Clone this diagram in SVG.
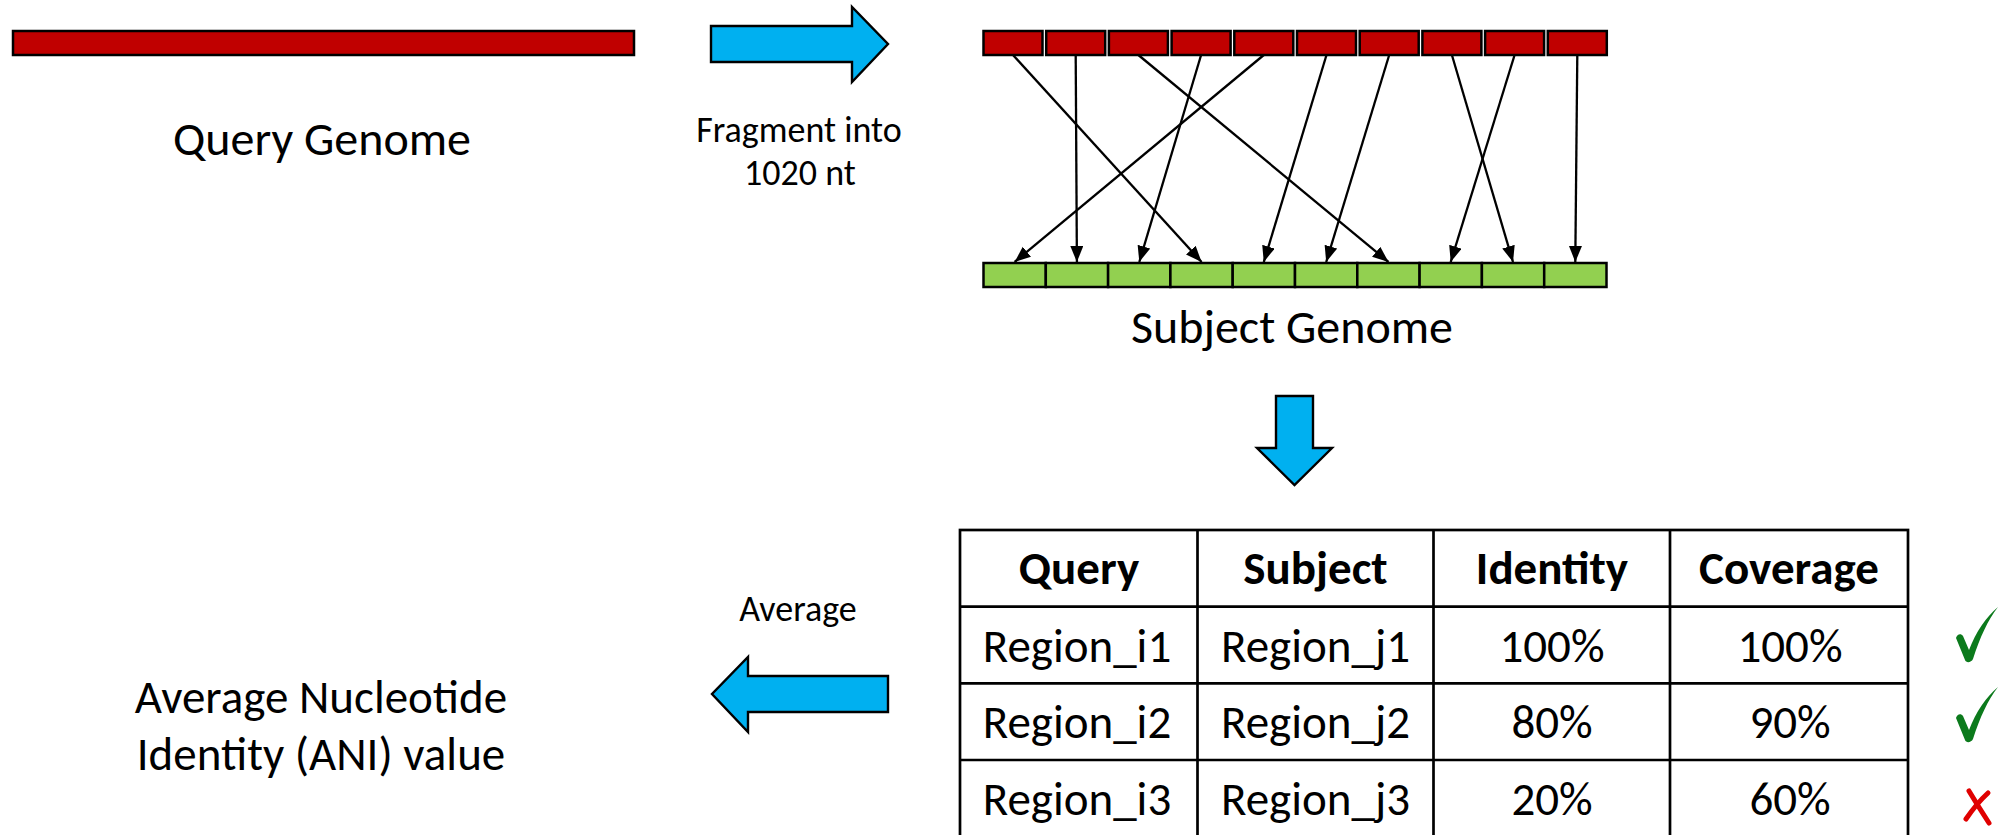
<svg xmlns="http://www.w3.org/2000/svg" width="2016" height="835" viewBox="0 0 2016 835">
  <style>
    .txt { font-family: Carlito, Lato, "Open Sans", sans-serif; fill: #000; text-anchor: middle; }
    .big { font-size: 48px; }
    .res { font-size: 47px; }
    .mid { font-size: 36px; }
    .hdr { font-size: 47px; font-weight: bold; }
    .cell { font-size: 47px; }
    .red { fill: #C00000; stroke: #000; stroke-width: 2.5; }
    .green { fill: #92D050; stroke: #000; stroke-width: 2.5; }
    .blue { fill: #00B0F0; stroke: #000; stroke-width: 2.4; stroke-linejoin: miter; }
    .link { stroke: #000; stroke-width: 2.3; fill: none; marker-end: url(#tri); }
    .grid { stroke: #000; stroke-width: 2.7; fill: none; }
    .ok { fill: #0C7A1C; }
    .no { stroke: #E00000; stroke-width: 5; fill: none; stroke-linecap: round; }
  </style>
  <defs>
    <marker id="tri" markerUnits="userSpaceOnUse" markerWidth="17" markerHeight="14" refX="16" refY="6.5" orient="auto">
      <path d="M0,0 L16,6.5 L0,13 Z" fill="#000"/>
    </marker>
    <path id="tick" d="M-13,-23 C-12,-27 -8,-28 -6,-25 L0,-11 C7,-29 17,-44 29,-54 C19,-41 11,-24 4,-2 C2,2 -3,2 -4,-1 Z"/>
  </defs>

  <rect width="2016" height="835" fill="#fff"/>

  <!-- query genome -->
  <g id="query-genome">
    <rect class="red" x="13" y="31" width="621" height="24"/>
    <text class="txt big" x="322" y="155">Query Genome</text>
  </g>

  <!-- fragmentation step -->
  <g id="fragment-arrow">
    <polygon class="blue" points="711,26 852,26 852,7 888,44 852,82 852,62 711,62"/>
    <text class="txt mid" x="799" y="142">Fragment into</text>
    <text class="txt mid" x="800" y="185">1020 nt</text>
  </g>

  <!-- query fragments -->
  <g id="fragments">
    <rect class="red" x="983.5" y="31" width="59" height="24"/>
    <rect class="red" x="1046.2" y="31" width="59" height="24"/>
    <rect class="red" x="1108.9" y="31" width="59" height="24"/>
    <rect class="red" x="1171.6" y="31" width="59" height="24"/>
    <rect class="red" x="1234.3" y="31" width="59" height="24"/>
    <rect class="red" x="1297" y="31" width="59" height="24"/>
    <rect class="red" x="1359.7" y="31" width="59" height="24"/>
    <rect class="red" x="1422.4" y="31" width="59" height="24"/>
    <rect class="red" x="1485.1" y="31" width="59" height="24"/>
    <rect class="red" x="1547.8" y="31" width="59" height="24"/>
  </g>

  <!-- subject genome -->
  <g id="subject-genome">
    <rect class="green" x="983.5" y="263" width="62.3" height="24"/>
    <rect class="green" x="1045.8" y="263" width="62.3" height="24"/>
    <rect class="green" x="1108.1" y="263" width="62.3" height="24"/>
    <rect class="green" x="1170.4" y="263" width="62.3" height="24"/>
    <rect class="green" x="1232.7" y="263" width="62.3" height="24"/>
    <rect class="green" x="1295" y="263" width="62.3" height="24"/>
    <rect class="green" x="1357.3" y="263" width="62.3" height="24"/>
    <rect class="green" x="1419.6" y="263" width="62.3" height="24"/>
    <rect class="green" x="1481.9" y="263" width="62.3" height="24"/>
    <rect class="green" x="1544.2" y="263" width="62.3" height="24"/>
    <text class="txt big" x="1292" y="343">Subject Genome</text>
  </g>

  <!-- fragment-to-subject hits -->
  <g id="connectors">
    <line class="link" x1="1013" y1="55" x2="1201.6" y2="262"/>
    <line class="link" x1="1075.7" y1="55" x2="1076.9" y2="262"/>
    <line class="link" x1="1138.4" y1="55" x2="1388.5" y2="262"/>
    <line class="link" x1="1201.1" y1="55" x2="1139.3" y2="262"/>
    <line class="link" x1="1263.8" y1="55" x2="1014.6" y2="262"/>
    <line class="link" x1="1326.5" y1="55" x2="1263.8" y2="262"/>
    <line class="link" x1="1389.2" y1="55" x2="1326.2" y2="262"/>
    <line class="link" x1="1451.9" y1="55" x2="1513" y2="262"/>
    <line class="link" x1="1514.6" y1="55" x2="1450.7" y2="262"/>
    <line class="link" x1="1577.3" y1="55" x2="1575.3" y2="262"/>
  </g>

  <!-- step down to the hit table -->
  <g id="table-arrow">
    <polygon class="blue" points="1276,396 1313,396 1313,448 1332,448 1294.5,485 1257,448 1276,448"/>
  </g>

  <!-- hit table -->
  <g id="hit-table">
    <rect class="grid" x="960" y="530" width="948" height="310"/>
    <line class="grid" x1="960" y1="606.7" x2="1908" y2="606.7"/>
    <line class="grid" x1="960" y1="683.3" x2="1908" y2="683.3"/>
    <line class="grid" x1="960" y1="760" x2="1908" y2="760"/>
    <line class="grid" x1="1197.5" y1="530" x2="1197.5" y2="840"/>
    <line class="grid" x1="1433.5" y1="530" x2="1433.5" y2="840"/>
    <line class="grid" x1="1670" y1="530" x2="1670" y2="840"/>

    <text class="txt hdr" x="1079" y="584">Query</text>
    <text class="txt hdr" x="1315.5" y="584">Subject</text>
    <text class="txt hdr" x="1552" y="584">Identity</text>
    <text class="txt hdr" x="1789" y="584">Coverage</text>

    <text class="txt cell" x="1077" y="661.5">Region_i1</text>
    <text class="txt cell" x="1315.5" y="661.5">Region_j1</text>
    <text class="txt cell" x="1552" y="661.5">100%</text>
    <text class="txt cell" x="1790" y="661.5">100%</text>

    <text class="txt cell" x="1077" y="738">Region_i2</text>
    <text class="txt cell" x="1315.5" y="738">Region_j2</text>
    <text class="txt cell" x="1552" y="738">80%</text>
    <text class="txt cell" x="1790" y="738">90%</text>

    <text class="txt cell" x="1077" y="815">Region_i3</text>
    <text class="txt cell" x="1315.5" y="815">Region_j3</text>
    <text class="txt cell" x="1552" y="815">20%</text>
    <text class="txt cell" x="1790" y="815">60%</text>
  </g>

  <!-- pass / fail marks -->
  <g id="marks">
    <use href="#tick" class="ok" transform="translate(1969,661)"/>
    <use href="#tick" class="ok" transform="translate(1969,741)"/>
    <path class="no" d="M1969,791 Q1978,806 1989,823"/>
    <path class="no" d="M1988,793 Q1977,803 1966,819"/>
  </g>

  <!-- averaging step -->
  <g id="average-arrow">
    <text class="txt mid" x="798" y="621">Average</text>
    <polygon class="blue" points="888,676 748,676 748,657 712,694 748,732 748,712 888,712"/>
  </g>

  <!-- result -->
  <g id="ani-value">
    <text class="txt res" x="321" y="713">Average Nucleotide<tspan x="321" dy="57">Identity (ANI) value</tspan></text>
  </g>
</svg>
